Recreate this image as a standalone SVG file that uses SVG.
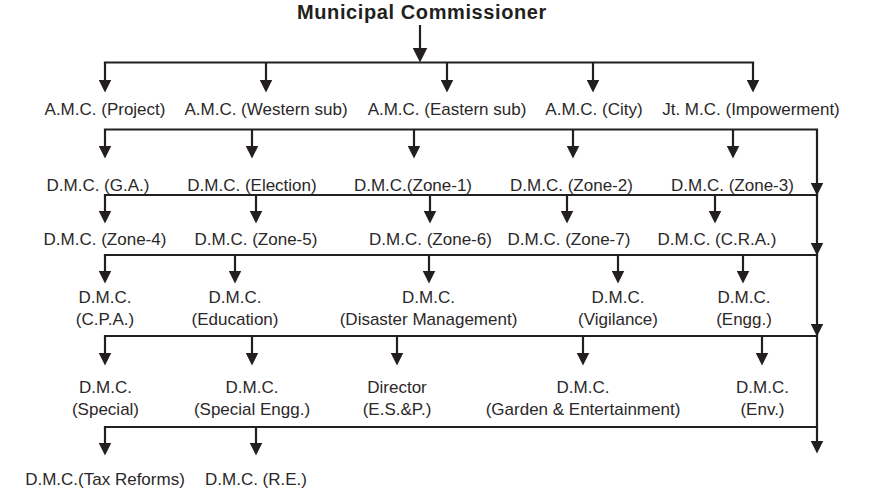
<svg xmlns="http://www.w3.org/2000/svg" width="872" height="492" viewBox="0 0 872 492">
<style>
  .t { font-family: "Liberation Sans", Arial, sans-serif; font-size: 17px; fill: #2b2829; text-anchor: middle; }
  .title { font-family: "Liberation Sans", Arial, sans-serif; font-size: 20px; letter-spacing: 0.6px; font-weight: bold; fill: #231f20; text-anchor: middle; }
  .c { fill: none; stroke: #231f20; stroke-width: 2.2; }
  .bar { stroke-linecap: square; }
  .arr { marker-end: url(#ah); }
</style>
<defs>
  <marker id="ah" markerUnits="userSpaceOnUse" markerWidth="13" markerHeight="13" viewBox="0 0 12 12" refX="6" refY="6" orient="auto">
    <path d="M0,0 L12,6 L0,12 z" fill="#231f20"/>
  </marker>
  <marker id="ahBig" markerUnits="userSpaceOnUse" markerWidth="15" markerHeight="15" viewBox="0 0 14 14" refX="7" refY="7" orient="auto">
    <path d="M0,0 L14,7 L0,14 z" fill="#231f20"/>
  </marker>
</defs>
<rect width="872" height="492" fill="#ffffff"/>

<g id="connectors">
  <!-- from Municipal Commissioner -->
  <path class="c" d="M420 25 V55" marker-end="url(#ahBig)"/>
  <!-- bar 1 -->
  <path class="c bar" d="M105 62.5 H753"/>
  <path class="c arr" d="M105 62.5 V86"/>
  <path class="c arr" d="M266 62.5 V86"/>
  <path class="c arr" d="M447 62.5 V86"/>
  <path class="c arr" d="M593 62.5 V86"/>
  <path class="c arr" d="M753 62.5 V86"/>
  <!-- bar 2 -->
  <path class="c bar" d="M105 129.5 H817"/>
  <path class="c arr" d="M105 129.5 V152"/>
  <path class="c arr" d="M252 129.5 V152"/>
  <path class="c arr" d="M414 129.5 V152"/>
  <path class="c arr" d="M573 129.5 V152"/>
  <path class="c arr" d="M733 129.5 V152"/>
  <!-- bar 3 -->
  <path class="c bar" d="M105 195 H817"/>
  <path class="c arr" d="M105 195 V217"/>
  <path class="c arr" d="M256 195 V217"/>
  <path class="c arr" d="M430 195 V217"/>
  <path class="c arr" d="M567 195 V217"/>
  <path class="c arr" d="M715 195 V217"/>
  <!-- bar 4 -->
  <path class="c bar" d="M105 255 H817"/>
  <path class="c arr" d="M105 255 V277"/>
  <path class="c arr" d="M235 255 V277"/>
  <path class="c arr" d="M429 255 V277"/>
  <path class="c arr" d="M618 255 V277"/>
  <path class="c arr" d="M743 255 V277"/>
  <!-- bar 5 -->
  <path class="c bar" d="M105 336 H817"/>
  <path class="c arr" d="M105 336 V359"/>
  <path class="c arr" d="M252 336 V359"/>
  <path class="c arr" d="M397 336 V359"/>
  <path class="c arr" d="M583 336 V359"/>
  <path class="c arr" d="M762 336 V359"/>
  <!-- bar 6 -->
  <path class="c bar" d="M105 427 H817"/>
  <path class="c arr" d="M105 427 V449"/>
  <path class="c arr" d="M256 427 V449"/>
  <!-- right trunk -->
  <path class="c arr" d="M817 129.5 V189"/>
  <path class="c arr" d="M817 189 V249"/>
  <path class="c arr" d="M817 249 V330"/>
  <path class="c arr" d="M817 330 V447"/>
</g>

<g id="municipal-commissioner"><text class="title" x="422" y="18.5">Municipal Commissioner</text></g>

<g id="amc-project"><text class="t" x="105" y="115">A.M.C. (Project)</text></g>
<g id="amc-western"><text class="t" x="266" y="115">A.M.C. (Western sub)</text></g>
<g id="amc-eastern"><text class="t" x="447" y="115">A.M.C. (Eastern sub)</text></g>
<g id="amc-city"><text class="t" x="594" y="115">A.M.C. (City)</text></g>
<g id="jtmc-impowerment"><text class="t" x="751" y="115">Jt. M.C. (Impowerment)</text></g>

<g id="dmc-ga"><text class="t" x="98" y="191">D.M.C. (G.A.)</text></g>
<g id="dmc-election"><text class="t" x="252" y="191">D.M.C. (Election)</text></g>
<g id="dmc-zone1"><text class="t" x="413" y="191">D.M.C.(Zone-1)</text></g>
<g id="dmc-zone2"><text class="t" x="571.5" y="191">D.M.C. (Zone-2)</text></g>
<g id="dmc-zone3"><text class="t" x="732.5" y="191">D.M.C. (Zone-3)</text></g>

<g id="dmc-zone4"><text class="t" x="105" y="245">D.M.C. (Zone-4)</text></g>
<g id="dmc-zone5"><text class="t" x="256" y="245">D.M.C. (Zone-5)</text></g>
<g id="dmc-zone6"><text class="t" x="430.5" y="245">D.M.C. (Zone-6)</text></g>
<g id="dmc-zone7"><text class="t" x="569" y="245">D.M.C. (Zone-7)</text></g>
<g id="dmc-cra"><text class="t" x="717" y="245">D.M.C. (C.R.A.)</text></g>

<g id="dmc-cpa"><text class="t" x="105" y="303">D.M.C.</text><text class="t" x="105" y="325">(C.P.A.)</text></g>
<g id="dmc-education"><text class="t" x="235" y="303">D.M.C.</text><text class="t" x="235" y="325">(Education)</text></g>
<g id="dmc-disaster"><text class="t" x="428.5" y="303">D.M.C.</text><text class="t" x="428.5" y="325">(Disaster Management)</text></g>
<g id="dmc-vigilance"><text class="t" x="618" y="303">D.M.C.</text><text class="t" x="618" y="325">(Vigilance)</text></g>
<g id="dmc-engg"><text class="t" x="744" y="303">D.M.C.</text><text class="t" x="744" y="325">(Engg.)</text></g>

<g id="dmc-special"><text class="t" x="105.5" y="393">D.M.C.</text><text class="t" x="105.5" y="415">(Special)</text></g>
<g id="dmc-special-engg"><text class="t" x="252" y="393">D.M.C.</text><text class="t" x="252" y="415">(Special Engg.)</text></g>
<g id="director-esp"><text class="t" x="397" y="393">Director</text><text class="t" x="397" y="415">(E.S.&amp;P.)</text></g>
<g id="dmc-garden"><text class="t" x="583" y="393">D.M.C.</text><text class="t" x="583" y="415">(Garden &amp; Entertainment)</text></g>
<g id="dmc-env"><text class="t" x="762.5" y="393">D.M.C.</text><text class="t" x="762.5" y="415">(Env.)</text></g>

<g id="dmc-tax-reforms"><text class="t" x="105" y="485">D.M.C.(Tax Reforms)</text></g>
<g id="dmc-re"><text class="t" x="256" y="485">D.M.C. (R.E.)</text></g>
</svg>
